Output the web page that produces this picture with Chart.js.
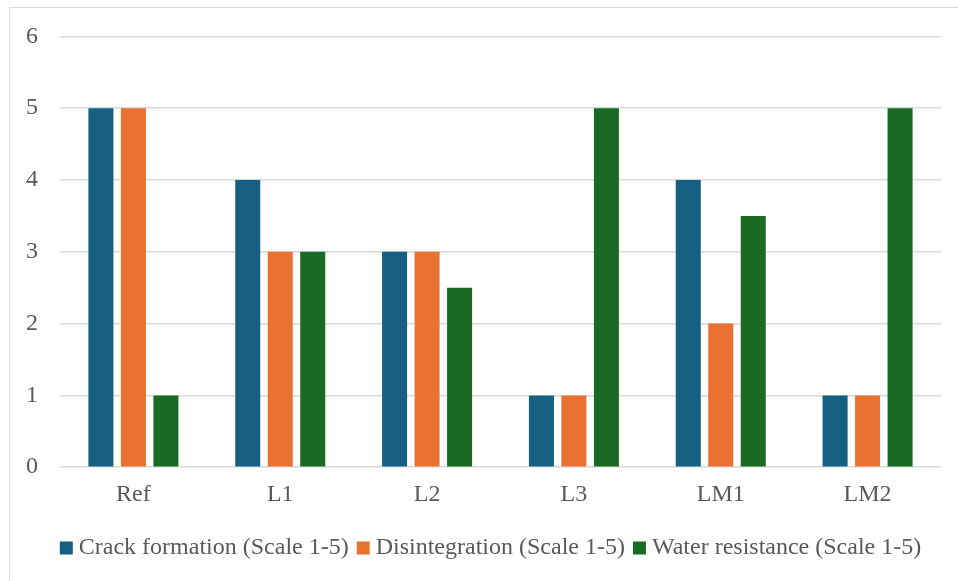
<!DOCTYPE html>
<html>
<head>
<meta charset="utf-8">
<script src="https://cdn.jsdelivr.net/npm/chart.js@4"></script>
<style>
  html, body { margin: 0; padding: 0; background: #fff; }
  #wrap { position: relative; width: 958px; height: 581px; }
  #frame { position: absolute; left: 9px; top: 7px; width: 960px; height: 600px; border: 1px solid #d9d9d9; box-sizing: border-box; }
  canvas { position: absolute; left: 0; top: 0; }
</style>
</head>
<body>
<div id="wrap">
  <div id="frame"></div>
  <canvas id="barChart" width="958" height="581"></canvas>
</div>
<script>
// data
const categories = ['Ref', 'L1', 'L2', 'L3', 'LM1', 'LM2']
const crackFormation = [5, 4, 3, 1, 4, 1]
const disintegration = [5, 3, 3, 1, 2, 1]
const waterResistance = [1, 3, 2.5, 5, 3.5, 5]
const seriesNames = [
  'Crack formation (Scale 1-5)',
  'Disintegration (Scale 1-5)',
  'Water resistance (Scale 1-5)'
]

const colors = {
  blue: '#156082',
  orange: '#e97132',
  green: '#196b24'
}
const textColor = '#595959'
const font = { family: "'Liberation Serif', 'Times New Roman', serif", size: 24 }

// legend sits a bit right of the canvas centre in the original
const shiftLegend = {
  id: 'shiftLegend',
  afterLayout (chart) {
    if (chart.legend) chart.legend.left += 46
  }
}

const ctx = document.getElementById('barChart')
new Chart(ctx, {
  type: 'bar',
  data: {
    labels: categories,
    datasets: [
      { label: seriesNames[0], data: crackFormation, backgroundColor: colors.blue },
      { label: seriesNames[1], data: disintegration, backgroundColor: colors.orange },
      { label: seriesNames[2], data: waterResistance, backgroundColor: colors.green }
    ]
  },
  options: {
    responsive: false,
    animation: false,
    categoryPercentage: 0.664,
    barPercentage: 0.77,
    layout: {
      padding: { left: 0, right: 17, top: 28, bottom: 11 }
    },
    scales: {
      x: {
        grid: { display: false },
        border: { display: false },
        ticks: { color: textColor, font: font, padding: 5 },
        afterFit (scale) {
          scale.height += 8
        }
      },
      y: {
        min: 0,
        max: 6,
        ticks: { stepSize: 1, color: textColor, font: font, padding: 22 },
        grid: { color: '#d9d9d9', lineWidth: 1.5, drawTicks: false },
        border: { display: false },
        afterFit (scale) {
          scale.width = 60
        }
      }
    },
    plugins: {
      legend: {
        position: 'bottom',
        labels: {
          color: textColor,
          font: font,
          usePointStyle: true,
          pointStyle: 'rect',
          boxWidth: 1, // square is sized by boxHeight, this keeps the text close to it
          boxHeight: 13,
          padding: 14
        }
      },
      tooltip: { enabled: false }
    }
  },
  plugins: [shiftLegend]
})
</script>
</body>
</html>
